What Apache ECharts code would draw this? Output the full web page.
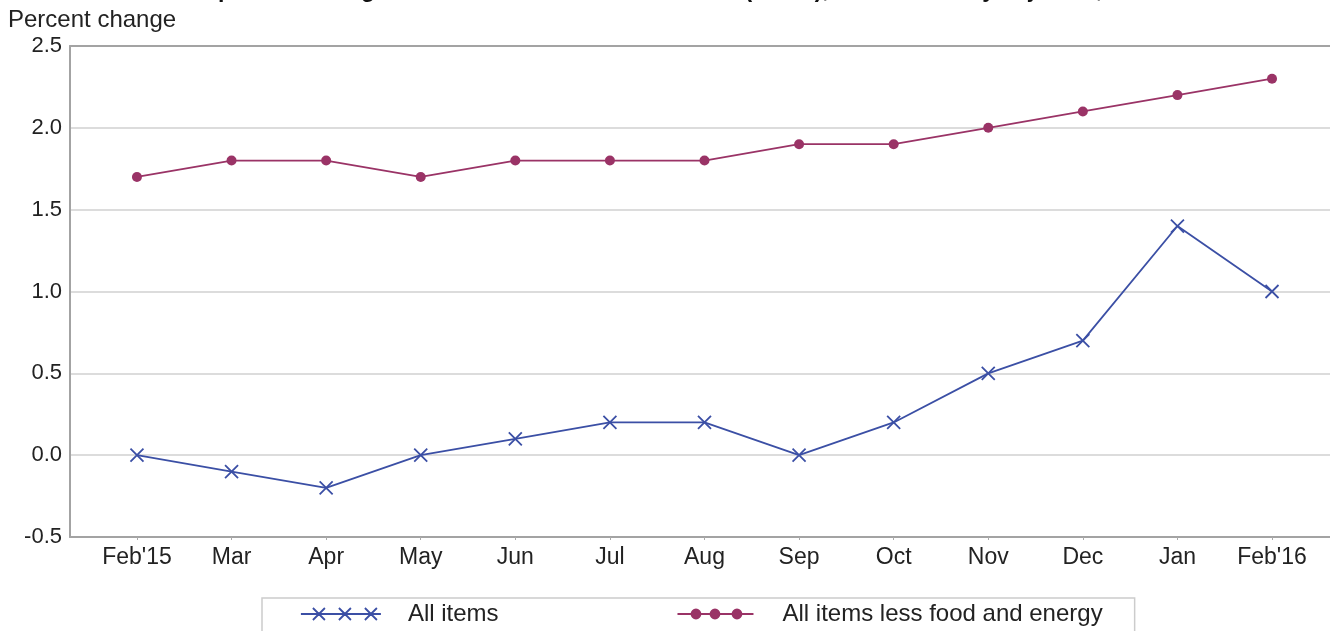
<!DOCTYPE html>
<html>
<head>
<meta charset="utf-8">
<script src="https://cdn.jsdelivr.net/npm/echarts@6/dist/echarts.min.js"></script>
<style>
html,body{margin:0;padding:0;background:#fff;}
#chart{width:1330px;height:631px;}
</style>
</head>
<body>
<div id="chart"></div>
<script>
var categories = ["Feb'15","Mar","Apr","May","Jun","Jul","Aug","Sep","Oct","Nov","Dec","Jan","Feb'16"];
var allItems = [0.0,-0.1,-0.2,0.0,0.1,0.2,0.2,0.0,0.2,0.5,0.7,1.4,1.0];
var coreItems = [1.7,1.8,1.8,1.7,1.8,1.8,1.8,1.9,1.9,2.0,2.1,2.2,2.3];
var yTicks = [-0.5,0.0,0.5,1.0,1.5,2.0,2.5];
var seriesNames = ["All items","All items less food and energy"];
var titleText = "Chart 1. 12-month percent change in CPI for All Urban Consumers (CPI-U), not seasonally adjusted, Feb. 2015 - Feb. 2016";
var yAxisTitle = "Percent change";

var FONT = "'Liberation Sans', Arial, sans-serif";
var BLUE = '#3b4fa5';
var MAGENTA = '#9a3366';
var idx = categories.map(function(c,i){return i;});

function pairs(vals){ return vals.map(function(v,i){return [i,v];}); }

var crossPath = 'path://M0,0L10,10M10,0L0,10';
var legendCross = 'path://M0,7L80,7M12,1L24,13M24,1L12,13M38,1L50,13M50,1L38,13M64,1L76,13M76,1L64,13';
var legendDots = 'path://M0,7L76,7M14,7a4.5,4.5 0 1,0 9,0a4.5,4.5 0 1,0 -9,0M33,7a4.5,4.5 0 1,0 9,0a4.5,4.5 0 1,0 -9,0M55,7a4.5,4.5 0 1,0 9,0a4.5,4.5 0 1,0 -9,0M0,0L0,0M76,14L76,14';

var chart = echarts.init(document.getElementById('chart'), null, {renderer:'canvas'});
chart.setOption({
  animation:false,
  backgroundColor:'#fff',
  textStyle:{fontFamily:FONT},
  graphic:[
    {type:'text', left:8, top:8, style:{text:yAxisTitle, font:'24px '+FONT, fill:'#222'}},
    {type:'text', x:16, y:2, style:{text:titleText, font:'bold 23px '+FONT, fill:'#111', verticalAlign:'bottom'}}
  ],
  grid:{left:70, right:0, top:46, bottom:94, containLabel:false},
  xAxis:[{
    type:'value', min:-0.708, max:12.613, position:'bottom',
    axisLine:{show:true, onZero:false, lineStyle:{color:'#a3a3a3', width:2}},
    axisTick:{show:true, customValues:idx, length:3, lineStyle:{color:'#aaa', width:1}},
    axisLabel:{customValues:idx, formatter:function(v){return categories[Math.round(v)];}, fontSize:23, color:'#222', margin:9, fontFamily:FONT},
    splitLine:{show:false}
  },{
    type:'value', min:-0.708, max:12.613, position:'top',
    axisLine:{show:true, onZero:false, lineStyle:{color:'#a3a3a3', width:2}},
    axisTick:{show:false}, axisLabel:{show:false}, splitLine:{show:false}
  }],
  yAxis:{
    type:'value', min:-0.5, max:2.5, interval:0.5,
    axisLine:{show:true, onZero:false, lineStyle:{color:'#a3a3a3', width:2}},
    axisTick:{show:false},
    axisLabel:{formatter:function(v){return v.toFixed(1);}, fontSize:22, color:'#222', margin:8, fontFamily:FONT},
    splitLine:{show:true, lineStyle:{color:'#d0d0d0', width:1.5}}
  },
  legend:{
    left:262, top:598, orient:'horizontal',
    padding:[4,32,22,38],
    itemGap:178, itemWidth:80, itemHeight:14,
    borderColor:'#cccccc', borderWidth:1.5, backgroundColor:'#fff',
    textStyle:{fontSize:24, color:'#222', fontFamily:FONT, padding:[0,0,0,22]},
    data:[
      {name:seriesNames[0], icon:legendCross, itemStyle:{color:BLUE, borderColor:BLUE, borderWidth:1.8}},
      {name:seriesNames[1], icon:legendDots, itemStyle:{color:MAGENTA, borderColor:MAGENTA, borderWidth:1.8}}
    ]
  },
  series:[
    {
      name:seriesNames[0], type:'line', data:pairs(allItems),
      symbol:crossPath, symbolSize:13, showAllSymbol:true,
      lineStyle:{color:BLUE, width:1.8},
      itemStyle:{color:'transparent', borderColor:BLUE, borderWidth:1.8},
      z:3
    },
    {
      name:seriesNames[1], type:'line', data:pairs(coreItems),
      symbol:'circle', symbolSize:10, showAllSymbol:true,
      lineStyle:{color:MAGENTA, width:1.8},
      itemStyle:{color:MAGENTA, borderWidth:0},
      z:3
    }
  ]
});
</script>
</body>
</html>
